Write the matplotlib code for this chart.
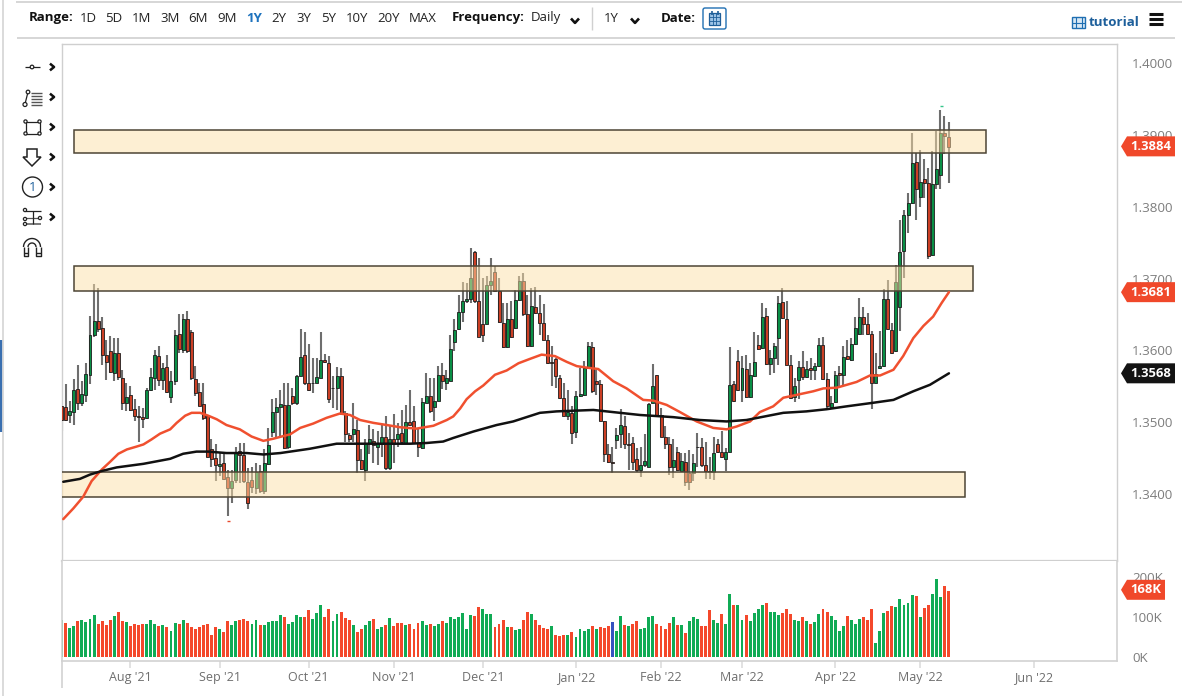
import numpy as np
import matplotlib
matplotlib.use("Agg")
import matplotlib.pyplot as plt
from matplotlib import font_manager as fm
from matplotlib.patches import Polygon, Rectangle, Circle, FancyBboxPatch

plt.rcParams['font.family'] = ['Open Sans', 'Noto Sans', 'DejaVu Sans']

# ---- data: prices in 1/10000 units (pips) ----
candle_dir = ("RRGGRGGGGR" "RRRGRRGRRR" "RGGGRGRGGR" "GRRRRRRRRG" "RRGGRRRRGR"
              "GGGGGRGRGG" "RRRGGRRRGR" "RRGRRGGRGG" "RGRGRGRRRG" "GRGGRGGGGG"
              "GGRRRGGRRR" "GRGGRRGRRR" "RRRRRGRGGG" "GRRRRRRGGR" "RRRGGGGRRR"
              "RGRGRRGRRR" "RGRRGGRRGR" "GGRGRGGGRR" "RGGRGRGGRR" "GGRGRGGGRR"
              "RGGGRRGGGG" "GRGRRGGGRR")
body_top = [
 13522,13521,13515,13545,13546,13539,13567,13621,13641,13641,
 13631,13593,13599,13596,13596,13562,13535,13538,13518,13509,
 13507,13545,13563,13593,13592,13575,13577,13557,13622,13623,
 13644,13644,13626,13560,13542,13525,13508,13462,13450,13442,
 13443,13423,13418,13459,13460,13454,13417,13419,13431,13432,
 13443,13468,13514,13521,13525,13524,13524,13537,13564,13591,
 13593,13554,13555,13563,13587,13587,13582,13548,13564,13564,
 13513,13482,13490,13489,13447,13471,13477,13474,13471,13479,
 13479,13477,13476,13483,13485,13500,13500,13502,13471,13528,
 13536,13536,13529,13565,13565,13561,13602,13628,13653,13668,
 13671,13701,13737,13668,13637,13691,13696,13709,13683,13638,
 13643,13643,13670,13697,13697,13650,13662,13660,13652,13638,
 13615,13584,13588,13561,13534,13514,13513,13537,13539,13576,
 13606,13605,13558,13553,13501,13456,13444,13482,13496,13494,
 13470,13471,13449,13441,13446,13525,13551,13566,13510,13479,
 13470,13448,13459,13446,13445,13429,13443,13466,13465,13441,
 13432,13457,13469,13458,13459,13552,13553,13585,13575,13574,
 13565,13584,13608,13646,13648,13589,13606,13666,13667,13643,
 13579,13550,13577,13577,13574,13575,13578,13608,13608,13560,
 13527,13565,13568,13591,13592,13609,13631,13646,13646,13636,
 13623,13567,13578,13672,13672,13628,13695,13737,13788,13805,
 13861,13862,13835,13838,13833,13832,13853,13903,13903,13897]
body_bottom = [
 13503,13503,13510,13514,13526,13527,13538,13566,13621,13630,
 13593,13584,13570,13568,13563,13526,13526,13517,13509,13507,
 13505,13506,13545,13562,13559,13559,13542,13535,13557,13602,
 13601,13599,13561,13541,13523,13506,13452,13449,13441,13439,
 13421,13408,13408,13419,13454,13418,13387,13410,13408,13404,
 13404,13442,13486,13514,13521,13464,13465,13527,13527,13564,
 13554,13545,13554,13555,13562,13584,13532,13547,13547,13513,
 13483,13476,13483,13448,13435,13434,13471,13468,13465,13470,
 13436,13436,13470,13476,13472,13471,13496,13471,13465,13464,
 13527,13515,13521,13530,13557,13554,13558,13611,13630,13653,
 13668,13671,13668,13619,13621,13637,13691,13682,13639,13604,
 13604,13618,13631,13670,13650,13606,13606,13652,13638,13615,
 13582,13582,13564,13534,13509,13509,13485,13486,13536,13538,
 13575,13544,13553,13502,13456,13444,13443,13475,13483,13469,
 13468,13445,13434,13433,13440,13438,13527,13510,13480,13470,
 13437,13438,13433,13432,13417,13417,13429,13465,13440,13432,
 13430,13431,13458,13451,13449,13459,13529,13545,13545,13535,
 13535,13564,13602,13603,13581,13581,13590,13617,13645,13580,
 13534,13535,13559,13563,13563,13572,13572,13578,13560,13522,
 13521,13528,13566,13565,13588,13586,13609,13623,13637,13623,
 13555,13555,13575,13578,13630,13596,13599,13660,13738,13789,
 13805,13824,13813,13833,13732,13733,13831,13844,13898,13883]
wick_high = [
 13522,13553,13529,13560,13579,13557,13582,13648,13693,13687,
 13646,13615,13620,13617,13617,13573,13555,13550,13532,13522,
 13520,13547,13575,13601,13606,13583,13593,13571,13629,13650,
 13651,13655,13629,13578,13555,13554,13510,13476,13469,13457,
 13457,13434,13434,13466,13471,13471,13436,13438,13443,13441,
 13462,13492,13532,13534,13545,13554,13554,13548,13566,13630,
 13626,13609,13589,13589,13625,13595,13592,13564,13577,13575,
 13515,13485,13527,13503,13462,13477,13496,13490,13487,13496,
 13508,13496,13512,13499,13517,13524,13545,13522,13490,13534,
 13568,13561,13561,13578,13582,13573,13622,13643,13677,13695,
 13694,13742,13738,13728,13701,13703,13728,13717,13701,13666,
 13666,13668,13684,13703,13708,13677,13687,13688,13677,13664,
 13622,13606,13589,13566,13554,13545,13522,13543,13575,13585,
 13612,13612,13573,13559,13501,13469,13466,13492,13518,13508,
 13485,13480,13464,13466,13483,13527,13581,13566,13520,13494,
 13480,13476,13465,13457,13457,13461,13455,13485,13478,13473,
 13452,13480,13476,13487,13464,13605,13557,13601,13592,13594,
 13582,13626,13622,13666,13659,13601,13610,13675,13687,13668,
 13594,13561,13585,13599,13585,13589,13582,13617,13619,13568,
 13536,13571,13578,13606,13615,13617,13647,13673,13661,13652,
 13627,13596,13627,13686,13698,13638,13719,13782,13796,13819,
 13903,13875,13879,13866,13854,13877,13905,13935,13926,13918]
wick_low = [
 13487,13502,13499,13496,13517,13522,13528,13553,13619,13626,
 13580,13559,13568,13557,13559,13517,13515,13515,13501,13472,
 13492,13504,13544,13545,13550,13545,13541,13527,13552,13596,
 13596,13596,13559,13536,13522,13503,13452,13438,13418,13425,
 13420,13369,13387,13415,13415,13415,13379,13401,13400,13401,
 13400,13441,13480,13480,13480,13463,13463,13524,13524,13564,
 13552,13543,13540,13554,13561,13582,13527,13520,13517,13510,
 13472,13473,13473,13429,13434,13418,13455,13443,13441,13452,
 13434,13434,13443,13466,13470,13470,13494,13470,13452,13463,
 13526,13513,13501,13529,13546,13545,13557,13599,13629,13640,
 13666,13666,13666,13619,13611,13636,13677,13681,13638,13603,
 13603,13617,13630,13668,13648,13605,13605,13650,13622,13615,
 13581,13550,13548,13532,13508,13503,13470,13478,13535,13536,
 13574,13541,13538,13501,13445,13443,13429,13462,13464,13462,
 13434,13434,13431,13424,13438,13438,13526,13509,13479,13462,
 13427,13422,13432,13432,13411,13406,13418,13438,13438,13421,
 13421,13419,13457,13450,13432,13459,13528,13544,13528,13534,
 13534,13563,13601,13602,13580,13566,13568,13580,13644,13579,
 13532,13528,13532,13559,13561,13559,13559,13577,13559,13520,
 13520,13527,13550,13550,13586,13585,13608,13622,13622,13622,
 13518,13554,13574,13577,13629,13595,13598,13627,13701,13763,
 13804,13782,13800,13812,13727,13732,13824,13824,13873,13833]

volume_k = [
 93,85,73,77,89,92,88,96,104,83, 89,81,92,102,112,89,88,77,83,79,
 82,82,92,82,77,79,74,65,85,82, 93,84,74,71,74,79,82,55,75,69,
 63,91,79,90,93,94,89,83,92,81, 80,88,89,91,104,99,83,87,105,99,
 99,117,95,110,131,99,119,89,107,112, 98,92,79,62,69,81,91,96,71,74,
 80,97,77,84,85,80,83,71,85,89, 80,83,78,83,89,86,99,94,101,110,
 69,105,102,126,119,107,107,76,82,93, 74,76,67,69,92,112,107,92,79,72,
 69,77,55,53,55,54,62,50,71,66, 71,78,70,75,72,77,88,
 64,102,79,77,83,91,71,73,101,102, 82,78,71,85,101,79,80,59,91,101,
 94,77,77,118,93,85,107,82,157,131, 130,93,105,91,111,121,129,134,112,112,
 105,110,119,107,93,91,101,89,82,88, 107,121,113,102,92,65,78,102,92,83,
 94,99,92,121,36,64,109,115,128,126, 146,130,134,156,153,100,122,130,157,196,
 150,177,166]
volume_dir = ("GRGGRGGGGR" "RRRGRRGRRR" "RGGGRGRGGR" "GRRRRRRRRG" "RRGGRRRGGR"
              "GGGGGRGGGG" "RRGGGRRGGR" "RRGRRGGRGG" "RGRRRGRRRG" "GRGGRGGGGG"
              "GGRRGGGRRR" "GRGGRRGRRR" "RGRRRGRGGG" "GRGRRRB"
              "GGRGRRGGGG" "RRRRGRGRGG" "GRRRGGRGGR" "GGRGGGGRGG" "GRRRGGRGRG"
              "GRRGGGGRGG" "GRRRGGGRRG" "GGGGRGRRGG" "GRR")

ma50_index = [0.4,2.9,5.3,7.4,9.9,12,14,16.1,18.5,20.2,22.2,24.3,26.8,28.4,30.5,32.1,34.2,36.2,38.3,40.7,
              44,46.9,49.8,52.3,54.3,56.4,58.9,62.1,65.4,68.7,71.2,73.7,77,80.3,83.5,87.6,91.8,95.1,96.7,98.4,
              100,102.1,104.1,107,109.9,112.8,115.6,118.5,121.8,124.7,127.2,129.6,132.5,136.2,139.5,143.6,146.1,
              149.4,152.7,156.8,160.9,164.2,166.7,170,172.4,175.7,178.2,181.5,185.6,188.1,191.4,196.3,199.6,202.1,
              205.4,207.8,210.3,212.8,215.2,217.3,219.1]
ma50_value = [13365,13380,13396,13418,13434,13445,13456,13462,13466,13469,13476,13484,13490,13499,13509,13513,13513,13509,13504,13496,
              13490,13480,13474,13477,13480,13483,13492,13498,13506,13512,13510,13503,13499,13496,13493,13491,13495,13503,13508,13519,
              13532,13543,13551,13566,13572,13582,13588,13594,13592,13584,13578,13576,13574,13557,13547,13531,13530,
              13524,13514,13501,13492,13490,13494,13501,13514,13522,13534,13538,13543,13547,13548,13556,13565,13565,
              13573,13592,13617,13634,13647,13666,13681]
ma200_index = [0.4,4.5,7,9.9,13.6,20.2,26.8,30,33.3,36.2,40.7,45.7,49.8,54,61.3,67.9,72,77.8,86,90.1,94.2,
               96.7,101.7,107.4,111.5,118.1,122.2,131.3,136.2,142.8,151,157.6,164.2,169.1,178.2,183.9,188.9,
               193.8,200.4,205.4,210.3,214.4,219.1]
ma200_value = [13417,13421,13427,13432,13437,13442,13449,13456,13459,13459,13457,13457,13455,13457,13463,13470,13470,13470,13470,13471,13473,
               13478,13487,13496,13501,13513,13515,13517,13514,13510,13507,13503,13501,13503,13513,13515,13518,
               13522,13527,13531,13543,13552,13568]

zone_top = [1.39074, 1.37181, 1.34306]
zone_bottom = [1.38754, 1.36826, 1.33958]
zone_start = [3.05, 3.05, -1.0]
zone_end = [228.2, 225.0, 223.0]

price_ticks = [1.34, 1.35, 1.36, 1.37, 1.38, 1.39, 1.40]
volume_ticks = [0, 100, 200]
month_index = [17, 39, 61, 82, 104, 127, 148, 168, 191, 212, 240]
month_labels = ["Aug '21", "Sep '21", "Oct '21", "Nov '21", "Dec '21", "Jan '22",
                "Feb '22", "Mar '22", "Apr '22", "May '22", "Jun '22"]
last_close, ma50_last, ma200_last, vol_last = 1.3884, 1.3681, 1.3568, 168

# ---- layout ----
W, H = 1182, 696
fig = plt.figure(figsize=(W / 100, H / 100), dpi=100, facecolor='white')
def axes_px(l, t, r, b):
    return fig.add_axes([l / W, 1 - b / H, (r - l) / W, (b - t) / H])

ax = axes_px(62, 44, 1117, 561)
vx = axes_px(62, 561, 1117, 661)

n = len(body_top)
x = np.arange(n)
top = np.array(body_top) / 1e4
bot = np.array(body_bottom) / 1e4
hi = np.array(wick_high) / 1e4
lo = np.array(wick_low) / 1e4
XLIM = (0.086, 260.6)

GREEN, RED = '#0a8f46', '#cb3f25'
cols = [GREEN if d == 'G' else RED for d in candle_dir]
ax.vlines(x, lo, hi, color='#6e6e6e', lw=1.5, zorder=2)
ax.bar(x, np.maximum(top - bot, 0.00008), bottom=bot, width=0.74, color=cols,
       edgecolor='#1c1c1c', linewidth=0.6, zorder=3)

for t, b, s, e in zip(zone_top, zone_bottom, zone_start, zone_end):
    ax.add_patch(Rectangle((s, b), e - s, t - b, facecolor='#fde0a8', alpha=0.5, edgecolor='none', zorder=4))
    ax.add_patch(Rectangle((s, b), e - s, t - b, facecolor='none', edgecolor='#4d4535', lw=1.1, zorder=4.1))

ax.plot(ma50_index, np.array(ma50_value) / 1e4, color='#f0502f', lw=1.8, zorder=5,
        solid_capstyle='round', solid_joinstyle='round')
ax.plot(ma200_index, np.array(ma200_value) / 1e4, color='#111111', lw=1.8, zorder=5,
        solid_capstyle='round', solid_joinstyle='round')

ax.set_xlim(*XLIM)
ax.set_ylim(1.33067, 1.40265)
ax.set_xticks([])
ax.yaxis.tick_right()
ax.set_yticks(price_ticks)
ax.set_yticklabels([f"{p:.4f}" for p in price_ticks], fontsize=9.6, color='#7d7d7d')
ax.tick_params(axis='y', length=0, pad=11)
for s in ax.spines.values():
    s.set_color('#cfcfcf'); s.set_linewidth(1.0)
ax.spines['bottom'].set_linewidth(1.6)

vcmap = {'G': '#10ab55', 'R': '#f4482b', 'B': '#3552c0'}
vx.bar(x, volume_k, width=0.72, color=[vcmap[d] for d in volume_dir], linewidth=0, zorder=2)
vx.set_xlim(*XLIM)
vx.set_ylim(-10, 240)
vx.yaxis.tick_right()
vx.set_yticks(volume_ticks)
vx.set_yticklabels([f"{v}K" for v in volume_ticks], fontsize=9.6, color='#7d7d7d')
vx.tick_params(axis='y', length=0, pad=11)
vx.set_xticks(month_index)
vx.set_xticklabels(month_labels, fontsize=9.0, color='#6e6e6e')
vx.tick_params(axis='x', length=5, width=1.2, color='#dddddd', pad=2.5)
vx.spines['top'].set_visible(False)
for k in ('left', 'right', 'bottom'):
    vx.spines[k].set_color('#d2d2d2'); vx.spines[k].set_linewidth(1.2)

# ---- overlay in pixels: toolbar, tags, drawing tools ----
ov = fig.add_axes([0, 0, 1, 1], zorder=10)
ov.set_xlim(0, W); ov.set_ylim(H, 0); ov.axis('off'); ov.patch.set_alpha(0)

def L(xs, ys, c='#111111', lw=1.0, **k):
    ov.plot(xs, ys, color=c, lw=lw, solid_capstyle=k.pop('cap', 'butt'), **k)
def C(cx, cy, r, ec='#222222', lw=0.9, fc='white'):
    ov.add_patch(Circle((cx, cy), r, facecolor=fc, edgecolor=ec, lw=lw, zorder=11))
def chev(cx, cy, s=3.2, c='#111111', lw=1.9, horizontal=True):
    if horizontal:   # pointing right
        L([cx - s * .6, cx + s * .6, cx - s * .6], [cy - s, cy, cy + s], c, lw)
    else:            # pointing down
        L([cx - s, cx, cx + s], [cy - s * .5, cy + s * .6, cy - s * .5], c, lw)

# frame lines
L([16, 1182], [1.5, 1.5], '#cfcfcf', 1.2)
L([17, 1175], [38, 38], '#cfcfcf', 1.2)
L([3, 3], [0, 696], '#d4d4d4', 1.2)
L([62, 62], [660, 688], '#d2d2d2', 1.2)
L([1, 1], [340, 432], '#3a6fb0', 1.6)

txt = dict(va='center', fontsize=9.5)
ov.text(29, 18, "Range:", fontweight='bold', color='#111111', **txt)
for lab, cx in zip(["1D", "5D", "1M", "3M", "6M", "9M", "2Y", "3Y", "5Y", "10Y", "20Y", "MAX"],
                   [88, 114, 141, 170, 198, 227, 279, 304, 329, 357, 389, 423]):
    ov.text(cx, 18, lab, ha='center', color='#222222', **txt)
ov.text(254, 18, "1Y", ha='center', fontweight='bold', color='#1e73be', **txt)
ov.text(452, 18, "Frequency:", fontweight='bold', color='#111111', **txt)
ov.text(531, 18, "Daily", color='#222222', **txt)
chev(575, 20.5, 4, horizontal=False)
L([592, 592], [7, 30], '#d0d0d0', 1.0)
ov.text(611, 18, "1Y", ha='center', color='#222222', **txt)
chev(635, 20.5, 4, horizontal=False)
ov.text(661, 18, "Date:", fontweight='bold', color='#111111', **txt)
ov.add_patch(FancyBboxPatch((703, 8), 23, 21, boxstyle='round,pad=0,rounding_size=2', fc='white', ec='#1f6fb2', lw=1.0))
ov.add_patch(Rectangle((709, 13), 11, 12, fc='#9cc3e6', ec='#1f5f99', lw=0.9))
for gx in (712.7, 716.3):
    L([gx, gx], [13, 25], '#1f5f99', 0.6)
for gy in (17, 21):
    L([709, 720], [gy, gy], '#1f5f99', 0.6)
L([711.5, 711.5], [11, 15], '#1f5f99', 1.2); L([717.5, 717.5], [11, 15], '#1f5f99', 1.2)

ov.add_patch(Rectangle((1072, 17), 13, 11, fc='#d8e8f5', ec='#1f6fb2', lw=1.0))
L([1075.5, 1075.5], [17, 28], '#1f6fb2', 0.8); L([1081.5, 1081.5], [17, 28], '#1f6fb2', 0.8)
L([1072, 1085], [22.5, 22.5], '#1f6fb2', 0.8)
ov.text(1089, 22.5, "tutorial", va='center', fontsize=9.6, fontweight='bold', color='#1d5f9b')
for hy in (13.5, 18.5, 23.5):
    L([1149, 1163], [hy, hy], '#111111', 2.2)

# left drawing tools
for cy in (67, 97, 127, 157, 187, 217):
    chev(52, cy, 3.4, lw=1.8)
L([25, 40], [67, 67], '#222222', 0.9); C(32, 67, 1.8)
L([25, 28], [104, 92], '#222222', 0.9); C(28, 92, 1.8); C(25, 104.5, 2)
for gy in (93, 96, 99, 102, 105):
    L([31, 42], [gy, gy], '#555555', 1.0)
ov.add_patch(Rectangle((25.5, 121.5), 14, 12, fc='white', ec='#222222', lw=0.9))
for c_ in ((25.5, 121.5), (39.5, 121.5), (25.5, 133.5), (39.5, 133.5)):
    C(c_[0], c_[1], 1.6)
ov.add_patch(Polygon([(27, 149), (37, 149), (37, 157), (41, 157), (32, 166), (23, 157), (27, 157)],
                     closed=True, fc='white', ec='#222222', lw=1.1))
C(32.5, 187, 10, ec='#222222', lw=1.0)
ov.text(32.5, 187.5, "1", ha='center', va='center', fontsize=9.5, color='#1d5f9b', zorder=12)
L([25, 41], [211, 211], '#222222', 0.9); L([25, 41], [218, 218], '#555555', 0.9); L([25, 41], [224, 224], '#555555', 1.1)
L([32.5, 32.5], [211, 224], '#222222', 0.9)
C(25, 210, 1.6); C(25, 219, 1.6); C(25, 224, 1.6); C(40, 218, 1.6)
th = np.linspace(np.pi, 0, 30)
L(32 + 8.5 * np.cos(th), 247 - 8.5 * np.sin(th), '#222222', 1.0)
L(32 + 4 * np.cos(th), 247 - 4 * np.sin(th), '#222222', 1.0)
L([23.5, 23.5, 28, 28], [247, 256, 256, 247], '#222222', 1.0)
L([36, 36, 40.5, 40.5], [247, 256, 256, 247], '#222222', 1.0)
L([23.5, 28], [252.5, 252.5], '#222222', 1.0); L([36, 40.5], [252.5, 252.5], '#222222', 1.0)

# small high/low markers
L([939.5, 942.5], [106, 106], '#35c58a', 1.0)
L([226.5, 229.5], [520.5, 520.5], '#e8492c', 1.0)

def tag(yc, text, fc, x1=1175, h=20):
    ov.add_patch(Polygon([(1121, yc), (1127, yc - h / 2), (x1, yc - h / 2), (x1, yc + h / 2), (1127, yc + h / 2)],
                         closed=True, fc=fc, ec='none', zorder=12))
    ov.text((1127 + x1) / 2 - 0.5, yc, text, ha='center', va='center', color='white',
            fontsize=9.4, fontweight='bold', zorder=13)

def price_y(p):
    return H - ax.transData.transform((0, p))[1]

tag(price_y(last_close), f"{last_close:.4f}", '#f0482a')
tag(price_y(ma50_last), f"{ma50_last:.4f}", '#f0482a')
tag(price_y(ma200_last), f"{ma200_last:.4f}", '#131313')
tag(H - vx.transData.transform((0, vol_last))[1], f"{vol_last}K", '#f0482a', x1=1165)

fig.savefig('out.png', dpi=100, facecolor='white')
